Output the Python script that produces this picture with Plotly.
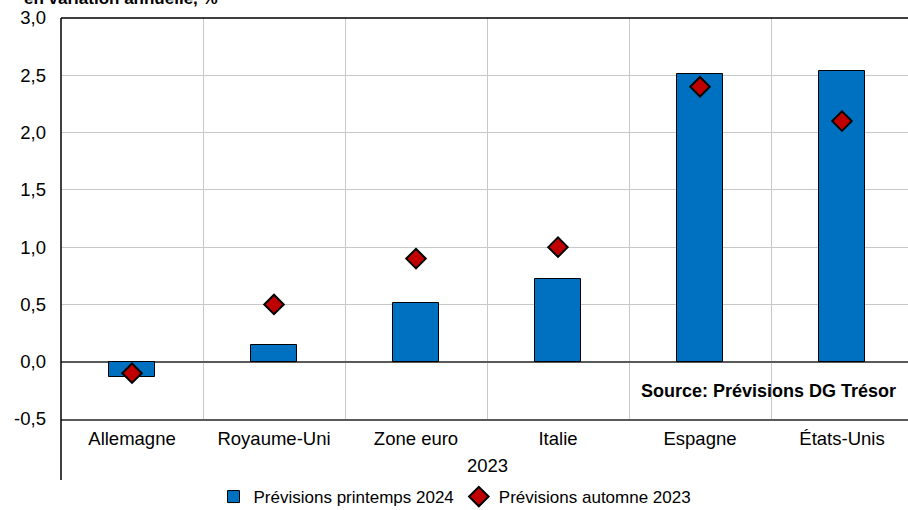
import plotly.graph_objects as go

categories = ["Allemagne", "Royaume-Uni", "Zone euro", "Italie", "Espagne", "États-Unis"]
printemps_2024 = [-0.13, 0.15, 0.51, 0.72, 2.51, 2.54]
automne_2023 = [-0.1, 0.5, 0.9, 1.0, 2.4, 2.1]
y_ticks = [-0.5, 0.0, 0.5, 1.0, 1.5, 2.0, 2.5, 3.0]
y_ticktext = ["-0,5", "0,0", "0,5", "1,0", "1,5", "2,0", "2,5", "3,0"]

W, H = 908, 510
L, T, B = 61, 18, 91
plot_h = H - T - B

fig = go.Figure()
fig.add_trace(go.Bar(
    x=categories, y=printemps_2024, name="Prévisions printemps 2024",
    width=0.32, marker=dict(color="#0070C0", line=dict(color="black", width=1)),
))
fig.add_trace(go.Scatter(
    x=categories, y=automne_2023, name="Prévisions automne 2023", mode="markers",
    marker=dict(symbol="diamond", size=15, color="#C00000", line=dict(color="black", width=2)),
))

font = "Liberation Sans, Arial, sans-serif"
fig.update_layout(
    width=W, height=H,
    margin=dict(l=L, r=0, t=T, b=B, autoexpand=False),
    plot_bgcolor="white", paper_bgcolor="white",
    separators=", ",
    font=dict(family=font, size=18, color="black"),
    showlegend=True,
    legend=dict(orientation="h", x=(455 - L) / (W - L), xanchor="center",
                y=(419 - 497) / plot_h, yanchor="middle",
                font=dict(size=17), itemwidth=30, tracegroupgap=0,
                bgcolor="rgba(0,0,0,0)"),
    bargap=0,
    xaxis=dict(
        type="category", range=[-0.5, -0.5 + (W - L) / 142.0],
        tickson="boundaries", showgrid=True, gridcolor="#C8C8C8", gridwidth=1,
        showline=True, linecolor="#595959", linewidth=1.5,
        ticks="", ticklabelstandoff=2, tickfont=dict(size=18.5),
        fixedrange=True, automargin=False,
    ),
    yaxis=dict(
        range=[-0.5, 3.0], tickvals=y_ticks, ticktext=y_ticktext,
        showgrid=True, gridcolor="#C8C8C8", gridwidth=1,
        zeroline=True, zerolinecolor="#595959", zerolinewidth=1.5,
        showline=False, ticks="", ticklabelstandoff=14, tickfont=dict(size=18.5),
        fixedrange=True, automargin=False,
    ),
)

# left axis line extending into category area, and top border
fig.add_shape(type="line", xref="paper", yref="paper", x0=0, x1=0,
              y0=1, y1=(419 - 480) / plot_h, line=dict(color="black", width=1.5))
fig.add_shape(type="line", xref="paper", yref="paper", x0=0, x1=1,
              y0=1, y1=1, line=dict(color="black", width=1.5))

fig.add_annotation(text="<b>en variation annuelle, %</b>", xref="paper", yref="paper",
                   x=(22 - L) / (W - L), xanchor="left", y=1 + (T + 1) / plot_h, yanchor="middle",
                   showarrow=False, font=dict(size=17))
fig.add_annotation(text="2023", xref="paper", yref="paper",
                   x=(487 - L) / (W - L), xanchor="center", y=(419 - 466) / plot_h, yanchor="middle",
                   showarrow=False, font=dict(size=18.5))
fig.add_annotation(text="<b>Source: Prévisions DG Trésor</b>", xref="paper", yref="paper",
                   x=(898 - L) / (W - L), xanchor="right", y=(419 - 391) / plot_h, yanchor="middle",
                   showarrow=False, font=dict(size=18))

fig.write_html("out.html")
